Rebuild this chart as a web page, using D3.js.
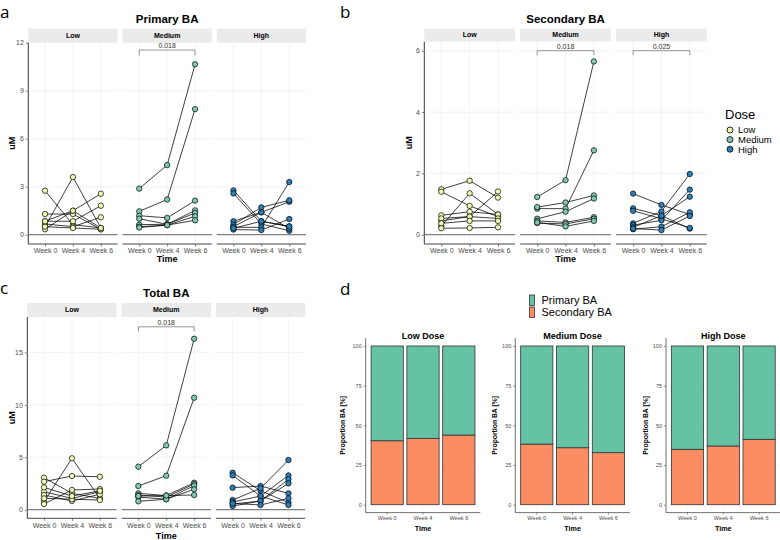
<!DOCTYPE html>
<html><head><meta charset="utf-8">
<script src="https://cdn.jsdelivr.net/npm/d3@7"></script>
<style>body{margin:0;background:#fff}svg{display:block;font-family:"Liberation Sans",Arial,sans-serif}</style>
</head><body><svg id="c" width="780" height="540"></svg>
<script>
// ---------------- data ----------------
const weeks = ["Week 0","Week 4","Week 6"];
const doses = ["Low","Medium","High"];
const doseColors = ["#EDF8B1","#7FC8B3","#2C7FB8"];

// Primary BA (uM); one row per subject: [Week 0, Week 4, Week 6]
const primaryLow = [[2.75,0.63,0.42],[0.5,3.6,0.42],[1.29,1.29,0.34],[0.34,1.5,2.56],[0.84,0.84,1.81],[0.67,0.5,1.09],[0.5,0.42,0.34],[0.84,1.5,0.42]];
const primaryMedium = [[2.88,4.35,10.65],[1.46,2.2,7.85],[1.19,1.05,2.13],[1.0,0.65,1.52],[0.63,0.65,1.36],[0.5,0.6,1.15],[0.45,0.6,0.9]];
const primaryHigh = [[2.77,0.84,0.52],[2.58,0.67,0.25],[0.84,1.4,2.06],[0.63,1.71,2.15],[0.46,0.46,3.29],[0.32,0.29,0.98],[0.5,1.4,0.38],[0.4,0.84,0.52]];
// Secondary BA (uM)
const secondaryLow = [[1.48,1.76,1.21],[1.40,0.94,0.59],[0.28,1.35,0.66],[0.45,0.59,1.41],[0.63,0.75,0.66],[0.53,0.59,0.53],[0.37,0.45,0.45],[0.21,0.22,0.24]];
const secondaryMedium = [[1.23,1.78,5.65],[0.85,0.85,2.75],[0.9,1.05,1.28],[0.52,0.75,1.18],[0.45,0.4,0.57],[0.38,0.35,0.52],[0.4,0.27,0.45]];
const secondaryHigh = [[1.34,0.97,0.66],[0.86,0.62,0.2],[0.78,0.52,0.22],[0.37,0.76,1.98],[0.31,0.47,1.47],[0.24,0.62,1.24],[0.18,0.26,0.73],[0.2,0.15,0.61]];
// Total BA (uM)
const totalLow = [[3.05,1.56,1.08],[0.76,4.9,1.08],[2.67,3.21,3.14],[0.54,1.88,1.97],[1.71,1.08,1.71],[1.4,0.83,1.47],[1.08,1.0,0.92],[2.13,1.3,1.8]];
const totalMedium = [[4.1,6.13,16.29],[2.26,3.24,10.67],[1.56,1.35,2.57],[1.4,1.2,2.45],[1.2,1.0,2.29],[0.8,1.0,1.94],[1.3,1.35,1.4]];
const totalHigh = [[3.52,1.81,0.67],[3.27,1.3,0.45],[2.1,2.26,1.56],[0.92,2.04,4.73],[0.73,1.3,3.27],[0.54,0.83,2.9],[0.35,0.83,2.51],[0.6,0.45,1.08]];

// Wilcoxon p-values (Week 0 vs Week 6) per dose facet
const primaryP = [null,"0.018",null];
const secondaryP = [null,"0.018","0.025"];
const totalP = [null,"0.018",null];
// bracket heights in data units [bar, tip]
const primaryBracket = [11.54,11.2];
const secondaryBracket = [6.0,5.85];
const totalBracket = [17.43,17.0];

const primaryTicks = [0,3,6,9,12];
const secondaryTicks = [0,2,4,6];
const totalTicks = [0,5,10,15];

// Panel d: proportion of secondary BA (%) per week; primary = 100 - secondary
const secondaryPctLow = [40.3,41.8,43.9];
const secondaryPctMedium = [38.2,35.9,32.8];
const secondaryPctHigh = [34.9,37.0,41.2];
const propTicks = [0,25,50,75,100];
const baTypes = ["Primary BA","Secondary BA"];
const baColors = ["#66C2A5","#FC8D62"];

// ---------------- drawing ----------------
const svg = d3.select("#c");
const FONT = "'Liberation Sans',Arial,sans-serif";

function letter(t,x,y){
  svg.append("text").attr("x",x).attr("y",y).text(t)
    .attr("font-family","'Open Sans',sans-serif").attr("font-size",17).attr("fill","#000");
}

function pointPanel(cfg){
  const g = svg.append("g");
  const y = d3.scaleLinear().domain(cfg.yDom).range(cfg.yRng);
  const facets = [cfg.low,cfg.med,cfg.high];
  const x = d3.scalePoint().domain(weeks).range([0,cfg.fw]).padding(0.6);
  // y axis
  const ya = g.append("g").attr("transform",`translate(${cfg.lefts[0]},0)`)
    .call(d3.axisLeft(y).tickValues(cfg.ticks).tickFormat(d3.format("d")).tickSize(2.5).tickPadding(2));
  ya.select(".domain").remove();
  ya.selectAll("line").attr("stroke","#333").attr("stroke-width",0.6);
  ya.selectAll("text").attr("font-size",7).attr("fill","#4d4d4d").attr("font-family",FONT);
  g.append("line").attr("x1",cfg.lefts[0]).attr("x2",cfg.lefts[0])
    .attr("y1",cfg.plotTop).attr("y2",cfg.plotBot).attr("stroke","#222").attr("stroke-width",0.9);

  facets.forEach((data,fi)=>{
    const fg = g.append("g").attr("transform",`translate(${cfg.lefts[fi]},0)`);
    // strip
    fg.append("rect").attr("x",0).attr("y",cfg.stripTop).attr("width",cfg.fw)
      .attr("height",cfg.plotTop-cfg.stripTop).attr("fill","#ebebeb");
    fg.append("text").attr("x",cfg.fw/2).attr("y",(cfg.stripTop+cfg.plotTop)/2).attr("dy","0.35em")
      .attr("text-anchor","middle").attr("font-size",7).attr("font-weight","bold").text(doses[fi]);
    // grid
    fg.selectAll(".hg").data(cfg.ticks).enter().append("line")
      .attr("x1",0).attr("x2",cfg.fw).attr("y1",d=>y(d)).attr("y2",d=>y(d))
      .attr("stroke","#ebebeb").attr("stroke-width",0.6);
    fg.selectAll(".vg").data(weeks).enter().append("line")
      .attr("x1",d=>x(d)).attr("x2",d=>x(d)).attr("y1",cfg.plotTop).attr("y2",cfg.plotBot)
      .attr("stroke","#ebebeb").attr("stroke-width",0.6);
    // hline at 0
    fg.append("line").attr("x1",0).attr("x2",cfg.fw).attr("y1",y(0)).attr("y2",y(0))
      .attr("stroke","#555").attr("stroke-width",0.9);
    // x axis
    const xa = fg.append("g").attr("transform",`translate(0,${cfg.plotBot})`)
      .call(d3.axisBottom(x).tickSize(2.5).tickPadding(2));
    xa.select(".domain").attr("stroke","#333").attr("stroke-width",0.9).attr("d",`M0,0H${cfg.fw}`);
    xa.selectAll("line").attr("stroke","#333").attr("stroke-width",0.6);
    xa.selectAll("text").attr("font-size",7).attr("fill","#4d4d4d").attr("font-family",FONT);
    // lines
    const line = d3.line().x((d,i)=>x(weeks[i])).y(d=>y(d));
    fg.selectAll(".subj").data(data).enter().append("path")
      .attr("d",line).attr("fill","none").attr("stroke","#000").attr("stroke-width",0.75);
    // points
    const pts = data.flatMap(r=>r.map((v,i)=>({w:weeks[i],v})));
    fg.selectAll(".pt").data(pts).enter().append("circle")
      .attr("cx",d=>x(d.w)).attr("cy",d=>y(d.v)).attr("r",2.7)
      .attr("fill",doseColors[fi]).attr("stroke","#000").attr("stroke-width",0.7);
    // bracket
    if(cfg.p[fi]){
      const x0=x(weeks[0]), x1=x(weeks[2]), yb=y(cfg.bracket[0]), yt=y(cfg.bracket[1]);
      fg.append("path").attr("d",`M${x0},${yt}V${yb}H${x1}V${yt}`).attr("fill","none")
        .attr("stroke","#6b6b6b").attr("stroke-width",0.7);
      fg.append("text").attr("x",(x0+x1)/2).attr("y",yb-2).attr("text-anchor","middle")
        .attr("font-size",7).attr("fill","#333").text(cfg.p[fi]);
    }
  });
  const cx = (cfg.lefts[0]+cfg.lefts[2]+cfg.fw)/2;
  svg.append("text").attr("x",cx).attr("y",cfg.titleY).attr("text-anchor","middle")
    .attr("font-size",11.5).attr("font-weight","bold").text(cfg.title);
  svg.append("text").attr("x",cx).attr("y",cfg.timeY).attr("text-anchor","middle")
    .attr("font-size",9).attr("font-weight","bold").text("Time");
  svg.append("text").attr("transform",`translate(${cfg.umX},${(cfg.plotTop+cfg.plotBot)/2}) rotate(-90)`)
    .attr("text-anchor","middle").attr("font-size",9).attr("font-weight","bold").text("uM");
}

pointPanel({title:"Primary BA",low:primaryLow,med:primaryMedium,high:primaryHigh,p:primaryP,bracket:primaryBracket,
  ticks:primaryTicks,yDom:[0,12],yRng:[234.7,42.7],lefts:[28.3,122.5,216.7],fw:89.3,
  stripTop:28.5,plotTop:42.5,plotBot:244,titleY:23,timeY:262,umX:15});
pointPanel({title:"Secondary BA",low:secondaryLow,med:secondaryMedium,high:secondaryHigh,p:secondaryP,bracket:secondaryBracket,
  ticks:secondaryTicks,yDom:[0,6],yRng:[234.7,50.7],lefts:[424.3,520.2,616.1],fw:90.7,
  stripTop:28.5,plotTop:41.5,plotBot:244,titleY:23,timeY:262,umX:412});
pointPanel({title:"Total BA",low:totalLow,med:totalMedium,high:totalHigh,p:totalP,bracket:totalBracket,
  ticks:totalTicks,yDom:[0,15],yRng:[509.7,352.3],lefts:[27.3,121.6,215.9],fw:89.3,
  stripTop:303,plotTop:317,plotBot:518.3,titleY:297,timeY:538.5,umX:15});

// Dose legend
const lg = svg.append("g");
lg.append("text").attr("x",725).attr("y",119).attr("font-size",13).text("Dose");
doses.forEach((d,i)=>{
  lg.append("circle").attr("cx",730).attr("cy",130+i*9.6).attr("r",3)
    .attr("fill",doseColors[i]).attr("stroke","#111").attr("stroke-width",0.9);
  lg.append("text").attr("x",738).attr("y",130+i*9.6).attr("dy","0.35em").attr("font-size",9.5).text(d);
});

// ---------------- panel d ----------------
function barPanel(sec,title,left,ylabX){
  const g = svg.append("g");
  const rows = weeks.map((w,i)=>({w,sec:sec[i],pri:100-sec[i]}));
  const x = d3.scaleBand().domain(weeks).range([left,left+114.6]).paddingInner(0.1).paddingOuter(0.15);
  const y = d3.scaleLinear().domain([0,100]).range([504.7,346]);
  const top = y(105), bot = y(-5);
  // faint grid
  g.selectAll(".hg").data(propTicks).enter().append("line").attr("x1",left).attr("x2",left+114.6)
    .attr("y1",d=>y(d)).attr("y2",d=>y(d)).attr("stroke","#f2f2f2").attr("stroke-width",0.5);
  g.selectAll(".vg").data(weeks).enter().append("line").attr("y1",top).attr("y2",bot)
    .attr("x1",d=>x(d)+x.bandwidth()/2).attr("x2",d=>x(d)+x.bandwidth()/2).attr("stroke","#f2f2f2").attr("stroke-width",0.5);
  const stack = d3.stack().keys(["sec","pri"])(rows);
  stack.forEach((layer,li)=>{
    g.selectAll(".b"+li).data(layer).enter().append("rect")
      .attr("x",d=>x(d.data.w)).attr("width",x.bandwidth())
      .attr("y",d=>y(d[1])).attr("height",d=>y(d[0])-y(d[1]))
      .attr("fill",baColors[li===0?1:0]).attr("stroke","#333").attr("stroke-width",0.8);
  });
  const ya = g.append("g").attr("transform",`translate(${left},0)`)
    .call(d3.axisLeft(y).tickValues(propTicks).tickSize(2).tickPadding(2));
  ya.select(".domain").attr("d",`M0,${top}V${bot}`).attr("stroke","#333").attr("stroke-width",0.7);
  ya.selectAll("line").attr("stroke","#333").attr("stroke-width",0.5);
  ya.selectAll("text").attr("font-size",5.5).attr("fill","#4d4d4d").attr("font-family",FONT);
  const xa = g.append("g").attr("transform",`translate(0,${bot})`)
    .call(d3.axisBottom(x).tickSize(2).tickPadding(1.5));
  xa.select(".domain").attr("d",`M${left},0H${left+114.6}`).attr("stroke","#333").attr("stroke-width",0.7);
  xa.selectAll("line").attr("stroke","#333").attr("stroke-width",0.5);
  xa.selectAll("text").attr("font-size",5.6).attr("fill","#4d4d4d").attr("font-family",FONT);
  g.append("text").attr("x",left+57.3).attr("y",338.5).attr("text-anchor","middle")
    .attr("font-size",9).attr("font-weight","bold").text(title);
  g.append("text").attr("x",left+57.3).attr("y",530.5).attr("text-anchor","middle")
    .attr("font-size",7.2).attr("font-weight","bold").text("Time");
  g.append("text").attr("transform",`translate(${ylabX},${(top+bot)/2}) rotate(-90)`)
    .attr("text-anchor","middle").attr("font-size",6.8).attr("font-weight","bold").text("Proportion BA [%]");
}
barPanel(secondaryPctLow,"Low Dose",365.7,345);
barPanel(secondaryPctMedium,"Medium Dose",515.3,497);
barPanel(secondaryPctHigh,"High Dose",666,648);

// BA legend
baTypes.forEach((t,i)=>{
  svg.append("rect").attr("x",529.5).attr("y",295+i*12).attr("width",5).attr("height",10.5)
    .attr("fill",baColors[i]).attr("stroke","#333").attr("stroke-width",0.8);
  svg.append("text").attr("x",541.5).attr("y",300.5+i*12).attr("dy","0.35em").attr("font-size",11).text(t);
});

letter("a",0,18); letter("b",340,18); letter("c",0,294); letter("d",340,295);
</script></body></html>
